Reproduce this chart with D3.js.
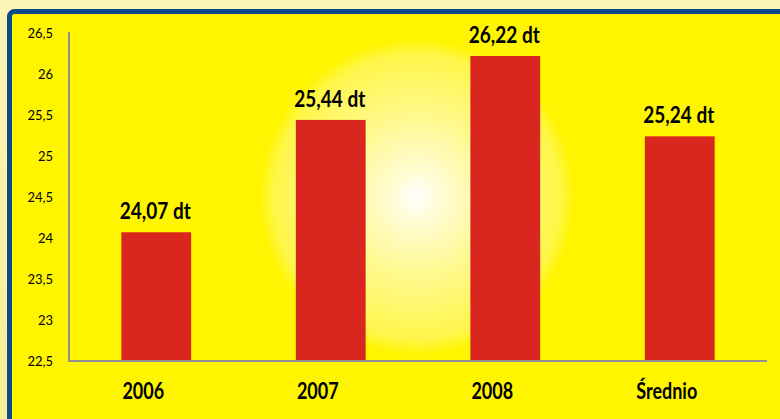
<!DOCTYPE html>
<html>
<head>
<meta charset="utf-8">
<script src="https://cdn.jsdelivr.net/npm/d3@7"></script>
<style>
  body { margin: 0; background: #faf3a4; }
  svg { display: block; }
</style>
</head>
<body>
<div class="chart"></div>
<script>
var categories = ["2006", "2007", "2008", "Średnio"];
var values = [24.07, 25.44, 26.22, 25.24];
var valueLabels = ["24,07 dt", "25,44 dt", "26,22 dt", "25,24 dt"];
var yTicks = [22.5, 23, 23.5, 24, 24.5, 25, 25.5, 26, 26.5];

var svgWidth = 780;
var svgHeight = 419;

var svg = d3.select(".chart")
  .append("svg")
  .attr("width", svgWidth)
  .attr("height", svgHeight);

var defs = svg.append("defs");

var topGrad = defs.append("linearGradient")
  .attr("id", "outer")
  .attr("x1", 0).attr("y1", 0).attr("x2", 0).attr("y2", 1);
topGrad.append("stop").attr("offset", "0%").attr("stop-color", "#fbf5b6");
topGrad.append("stop").attr("offset", "100%").attr("stop-color", "#f7ee98");

var glow = defs.append("radialGradient").attr("id", "glow");
glow.append("stop").attr("offset", "0%").attr("stop-color", "#ffffff");
glow.append("stop").attr("offset", "15%").attr("stop-color", "#fffcd6");
glow.append("stop").attr("offset", "50%").attr("stop-color", "#fff98f");
glow.append("stop").attr("offset", "90%").attr("stop-color", "#fff64a");
glow.append("stop").attr("offset", "100%").attr("stop-color", "#fff500");

svg.append("rect")
  .attr("width", svgWidth)
  .attr("height", svgHeight)
  .attr("fill", "url(#outer)");

// yellow panel with blue frame
svg.append("rect")
  .attr("x", 9.5)
  .attr("y", 11.5)
  .attr("width", 900)
  .attr("height", 600)
  .attr("rx", 5)
  .attr("fill", "#fff500")
  .attr("stroke", "#0c4a8c")
  .attr("stroke-width", 5);

svg.append("circle")
  .attr("cx", 417)
  .attr("cy", 197)
  .attr("r", 158)
  .attr("fill", "url(#glow)");

var x0 = 69, x1 = 767, yTop = 33, yBase = 361;

var xScale = d3.scaleBand()
  .domain(categories)
  .range([x0, x1])
  .paddingInner(0.6)
  .paddingOuter(0.3);

var yScale = d3.scaleLinear()
  .domain([22.5, 26.5])
  .range([yBase, yTop]);

var fmt = d3.format(".1f");

svg.selectAll("rect.bar")
  .data(values)
  .enter()
  .append("rect")
  .attr("class", "bar")
  .attr("x", (d, i) => xScale(categories[i]))
  .attr("y", d => yScale(d))
  .attr("width", xScale.bandwidth())
  .attr("height", d => yBase - yScale(d))
  .attr("fill", "#d9271f");

var leftAxis = d3.axisLeft(yScale)
  .tickValues(yTicks)
  .tickSize(0)
  .tickPadding(16)
  .tickFormat(d => (d % 1 === 0 ? String(d) : fmt(d).replace(".", ",")));

var yAxisG = svg.append("g")
  .attr("transform", `translate(${x0}, 0)`)
  .call(leftAxis);
yAxisG.select(".domain").remove();
yAxisG.selectAll("text")
  .attr("font-family", "Lato, sans-serif")
  .attr("font-size", 13)
  .attr("fill", "#000");

svg.append("line")
  .attr("x1", x0).attr("x2", x0)
  .attr("y1", yTop - 1).attr("y2", yBase)
  .attr("stroke", "#8f8f8f")
  .attr("stroke-width", 2);

svg.append("line")
  .attr("x1", x0 - 1).attr("x2", x1)
  .attr("y1", yBase).attr("y2", yBase)
  .attr("stroke", "#8f8f8f")
  .attr("stroke-width", 2);

// category labels (slightly left of the bars, stretched like the original)
svg.selectAll("text.cat")
  .data(categories)
  .enter()
  .append("text")
  .attr("class", "cat")
  .attr("transform", d => `translate(${xScale(d) + xScale.bandwidth() / 2 - 13}, 399) scale(1, 1.25)`)
  .attr("text-anchor", "middle")
  .attr("font-family", "Lato, sans-serif")
  .attr("font-weight", "bold")
  .attr("font-size", 18)
  .attr("fill", "#000")
  .text(d => d);

svg.selectAll("text.val")
  .data(values)
  .enter()
  .append("text")
  .attr("class", "val")
  .attr("transform", (d, i) => `translate(${xScale(categories[i]) + xScale.bandwidth() / 2 - 1}, ${yScale(d) - 13}) scale(1, 1.2)`)
  .attr("text-anchor", "middle")
  .attr("font-family", "Lato, sans-serif")
  .attr("font-weight", "bold")
  .attr("font-size", 19)
  .attr("fill", "#000")
  .text((d, i) => valueLabels[i]);
</script>
</body>
</html>
